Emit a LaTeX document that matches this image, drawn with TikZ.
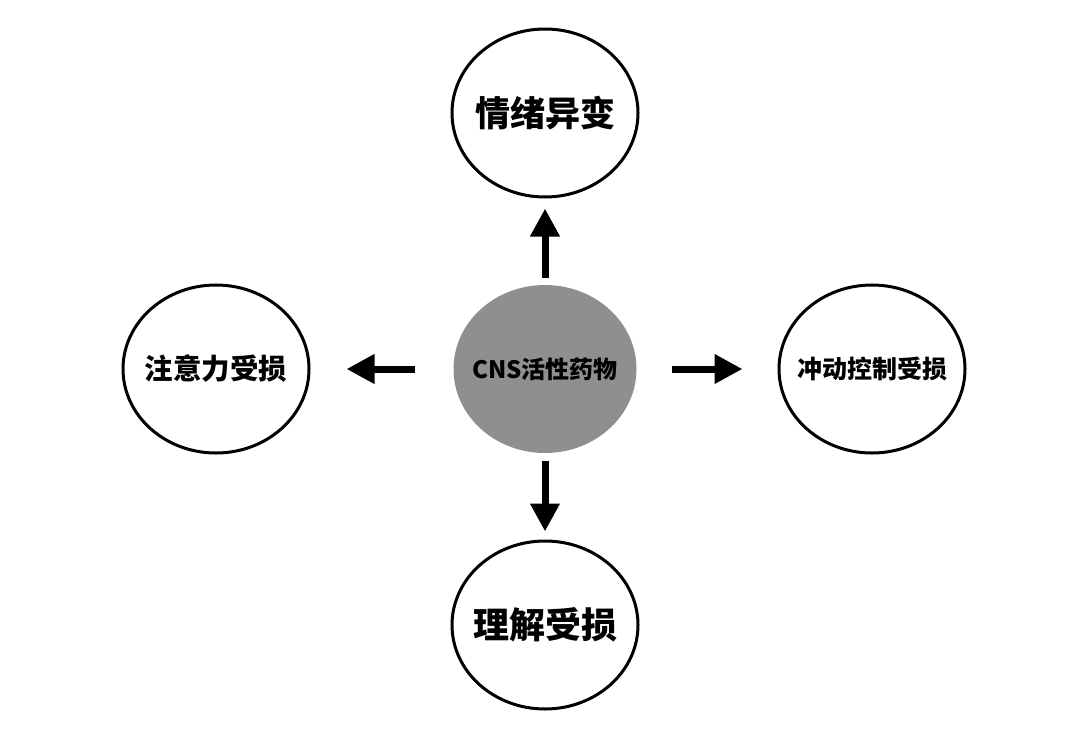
\documentclass[tikz,border=0pt]{standalone}
\usepackage{fontspec}
\newfontfamily\cjk{Noto Sans CJK SC}
\usetikzlibrary{shapes.geometric,arrows.meta}
\newcommand{\zw}[1]{\makebox[0pt]{#1}}
\begin{document}
\begin{tikzpicture}[x=1pt,y=1pt,
  bubble/.style={ellipse,draw=black,line width=3pt,fill=white,inner sep=0pt,
    minimum width=186pt,minimum height=168pt,font=\cjk\bfseries},
  hub/.style={ellipse,draw=none,fill=black!44,inner sep=0pt,
    minimum width=183pt,minimum height=168pt,font=\cjk\bfseries\fontsize{24}{28}\selectfont},
  link/.style={line width=7pt,-{Triangle[length=28pt,width=28pt]}}]
\useasboundingbox (0,0) rectangle (1092,-734);
\node[hub] (c) at (545,-369) {\zw{CNS活性药物}};
\node[bubble,font=\cjk\bfseries\fontsize{35}{40}\selectfont] (t) at (545,-113) {\zw{情绪异变}};
\node[bubble,font=\cjk\bfseries\fontsize{36}{40}\selectfont] (b) at (545,-625) {\zw{理解受损}};
\node[bubble,font=\cjk\bfseries\fontsize{28.5}{32}\selectfont] (l) at (216,-369) {\zw{注意力受损}};
\node[bubble,font=\cjk\bfseries\fontsize{25}{30}\selectfont] (r) at (872,-369) {\zw{冲动控制受损}};
\draw[link,shorten <=7pt,shorten >=10pt] (c.north) -- (t.south);
\draw[link,shorten <=8pt,shorten >=8pt] (c.south) -- (b.north);
\draw[link,shorten <=38pt,shorten >=36pt] (c.west) -- (l.east);
\draw[link,shorten <=35pt,shorten >=35pt] (c.east) -- (r.west);
\end{tikzpicture}
\end{document}
